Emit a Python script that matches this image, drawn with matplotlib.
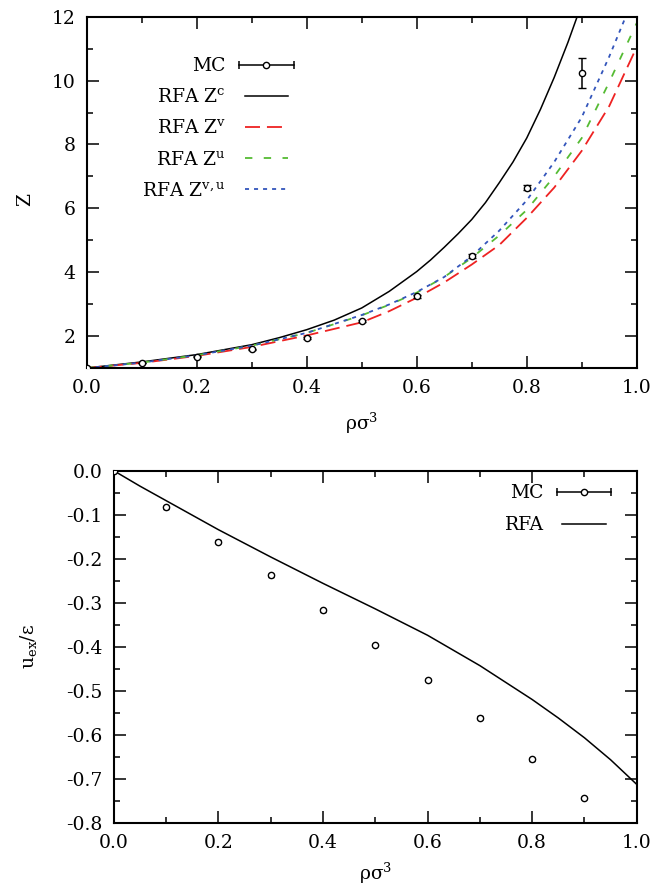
import matplotlib
matplotlib.use('Agg')
import matplotlib.pyplot as plt
from matplotlib.lines import Line2D
from matplotlib.legend_handler import HandlerLine2D
from matplotlib.ticker import MultipleLocator, FormatStrFormatter

plt.rcParams['font.family'] = ['DejaVu Serif']
plt.rcParams['mathtext.fontset'] = 'dejavuserif'
plt.rcParams['axes.unicode_minus'] = False
plt.rcParams['lines.scale_dashes'] = False

# ---------------- data: compressibility factor ----------------
rho_mc = [0.0, 0.1, 0.2, 0.3, 0.4, 0.5, 0.6, 0.7, 0.8, 0.9]
z_mc = [1.0, 1.16, 1.35, 1.58, 1.95, 2.47, 3.25, 4.52, 6.64, 10.24]
z_mc_err = [0.0, 0.01, 0.02, 0.02, 0.03, 0.04, 0.05, 0.06, 0.08, 0.48]

rho_c = [0.0, 0.1, 0.2, 0.3, 0.35, 0.4, 0.45, 0.5, 0.55, 0.6, 0.625, 0.65, 0.675,
         0.7, 0.725, 0.75, 0.775, 0.8, 0.825, 0.85, 0.875, 0.9]
z_c = [1.0, 1.19, 1.42, 1.73, 1.95, 2.2, 2.5, 2.88, 3.4, 4.02, 4.38, 4.78, 5.2,
       5.65, 6.18, 6.8, 7.45, 8.2, 9.1, 10.1, 11.2, 12.4]

rho_v = [0.0, 0.1, 0.2, 0.3, 0.4, 0.5, 0.55, 0.6, 0.65, 0.7, 0.75, 0.8, 0.85, 0.9, 0.95, 1.0]
z_v = [1.0, 1.16, 1.38, 1.66, 2.02, 2.43, 2.78, 3.2, 3.68, 4.24, 4.85, 5.7, 6.65, 7.8, 9.2, 11.05]

rho_u = [0.0, 0.1, 0.2, 0.3, 0.4, 0.5, 0.55, 0.6, 0.65, 0.7, 0.75, 0.8, 0.85, 0.9, 0.95, 1.0]
z_u = [1.0, 1.17, 1.4, 1.7, 2.1, 2.65, 2.98, 3.36, 3.85, 4.45, 5.15, 5.95, 7.0, 8.2, 9.95, 11.8]

rho_vu = [0.0, 0.1, 0.2, 0.3, 0.4, 0.5, 0.55, 0.6, 0.65, 0.7, 0.75, 0.8, 0.85, 0.9, 0.95, 0.98]
z_vu = [1.0, 1.17, 1.4, 1.7, 2.1, 2.66, 2.99, 3.38, 3.85, 4.5, 5.3, 6.25, 7.45, 8.85, 10.75, 12.0]

# ---------------- data: excess internal energy ----------------
u_mc = [0.0, -0.083, -0.161, -0.238, -0.317, -0.396, -0.476, -0.561, -0.656, -0.744]
u_mc_err = [0.0, 0.003, 0.003, 0.003, 0.003, 0.003, 0.003, 0.003, 0.003, 0.003]

rho_rfa = [0.0, 0.05, 0.1, 0.2, 0.3, 0.4, 0.5, 0.6, 0.7, 0.8, 0.85, 0.9, 0.95, 1.0]
u_rfa = [0.0, -0.035, -0.068, -0.134, -0.196, -0.256, -0.314, -0.374, -0.443, -0.52,
         -0.562, -0.607, -0.657, -0.713]

fs = 13.5


def style_axes(ax):
    for s in ax.spines.values():
        s.set_linewidth(1.5)
    ax.tick_params(which='both', direction='in', top=True, right=True,
                   labelsize=fs, width=1.1)
    ax.tick_params(which='major', length=8.5)
    ax.tick_params(which='minor', length=4.3)
    ax.tick_params(axis='x', pad=8)
    ax.tick_params(axis='y', pad=8)


def mc_legend_handle():
    caps = Line2D([], [], color='k', lw=1.1, marker='|', markersize=6, markeredgewidth=1.1)
    dot = Line2D([], [], color='k', ls='none', marker='o', mfc='white', markersize=4.5, mew=1.0)
    hmap = {caps: HandlerLine2D(numpoints=2, marker_pad=0), dot: HandlerLine2D(numpoints=1)}
    return (caps, dot), hmap


fig = plt.figure(figsize=(6.62, 8.9), dpi=100)

# ---------------- top panel ----------------
ax1 = fig.add_axes([0.131, 0.5865, 0.8308, 0.3947])
ax1.plot(rho_c, z_c, color='black', lw=1.1)
ax1.plot(rho_v, z_v, color='#ee2222', lw=1.3, dashes=(10.8, 5.0))
ax1.plot(rho_u, z_u, color='#55bb33', lw=1.3, dashes=(5.3, 8.2))
ax1.plot(rho_vu, z_vu, color='#3355bb', lw=1.3, dashes=(2.9, 3.6))
ax1.errorbar(rho_mc, z_mc, yerr=z_mc_err, fmt='o', color='black', mfc='white',
             ms=4.5, mew=1.0, elinewidth=1.1, capsize=3, capthick=1.1, zorder=5)
ax1.set_xlim(0, 1)
ax1.set_ylim(1, 12)
ax1.xaxis.set_major_locator(MultipleLocator(0.2))
ax1.xaxis.set_minor_locator(MultipleLocator(0.1))
ax1.yaxis.set_major_locator(MultipleLocator(2))
ax1.yaxis.set_minor_locator(MultipleLocator(1))
ax1.xaxis.set_major_formatter(FormatStrFormatter('%.1f'))
style_axes(ax1)
ax1.set_xlabel('ρσ$^3$', fontsize=fs, va='center')
ax1.xaxis.set_label_coords(0.5, -0.157)
ax1.set_ylabel('Z', fontsize=fs, va='center')
ax1.yaxis.set_label_coords(-0.112, 0.48)

h_mc, hmap = mc_legend_handle()
l_c = Line2D([], [], color='black', lw=1.1)
l_v = Line2D([], [], color='#ee2222', lw=1.3, dashes=(10.8, 5.0))
l_u = Line2D([], [], color='#55bb33', lw=1.3, dashes=(5.3, 8.2))
l_vu = Line2D([], [], color='#3355bb', lw=1.3, dashes=(2.9, 3.6))
ax1.legend([h_mc, l_c, l_v, l_u, l_vu],
           ['MC', 'RFA Z$^{\\mathrm{c}}$', 'RFA Z$^{\\mathrm{v}}$',
            'RFA Z$^{\\mathrm{u}}$', 'RFA Z$^{\\mathrm{v,u}}$'],
           handler_map=hmap, numpoints=2, markerfirst=False, frameon=False,
           fontsize=fs, loc='upper right', bbox_to_anchor=(0.376, 0.885),
           borderaxespad=0, borderpad=0, handlelength=2.9, handletextpad=0.7,
           labelspacing=0.7)

# ---------------- bottom panel ----------------
ax2 = fig.add_axes([0.1719, 0.0756, 0.790, 0.3955])
ax2.plot(rho_rfa, u_rfa, color='black', lw=1.1)
ax2.errorbar(rho_mc, u_mc, yerr=u_mc_err, fmt='o', color='black', mfc='white',
             ms=4.5, mew=1.0, elinewidth=1.1, capsize=2, capthick=1.0, zorder=5)
ax2.set_xlim(0, 1)
ax2.set_ylim(-0.8, 0)
ax2.xaxis.set_major_locator(MultipleLocator(0.2))
ax2.xaxis.set_minor_locator(MultipleLocator(0.1))
ax2.yaxis.set_major_locator(MultipleLocator(0.1))
ax2.yaxis.set_minor_locator(MultipleLocator(0.05))
ax2.xaxis.set_major_formatter(FormatStrFormatter('%.1f'))
ax2.yaxis.set_major_formatter(FormatStrFormatter('%.1f'))
style_axes(ax2)
ax2.set_xlabel('ρσ$^3$', fontsize=fs, va='center')
ax2.xaxis.set_label_coords(0.5, -0.143)
ax2.set_ylabel('u$_{\\mathrm{ex}}$/ε', fontsize=fs, va='center')
ax2.yaxis.set_label_coords(-0.164, 0.5)

h_mc2, hmap2 = mc_legend_handle()
l_rfa = Line2D([], [], color='black', lw=1.1)
ax2.legend([h_mc2, l_rfa], ['MC', 'RFA'], handler_map=hmap2, numpoints=2,
           markerfirst=False, frameon=False, fontsize=fs, loc='upper right',
           bbox_to_anchor=(0.951, 0.962), borderaxespad=0, borderpad=0,
           handlelength=2.9, handletextpad=0.7, labelspacing=0.75)

fig.savefig('out.png', dpi=100)
